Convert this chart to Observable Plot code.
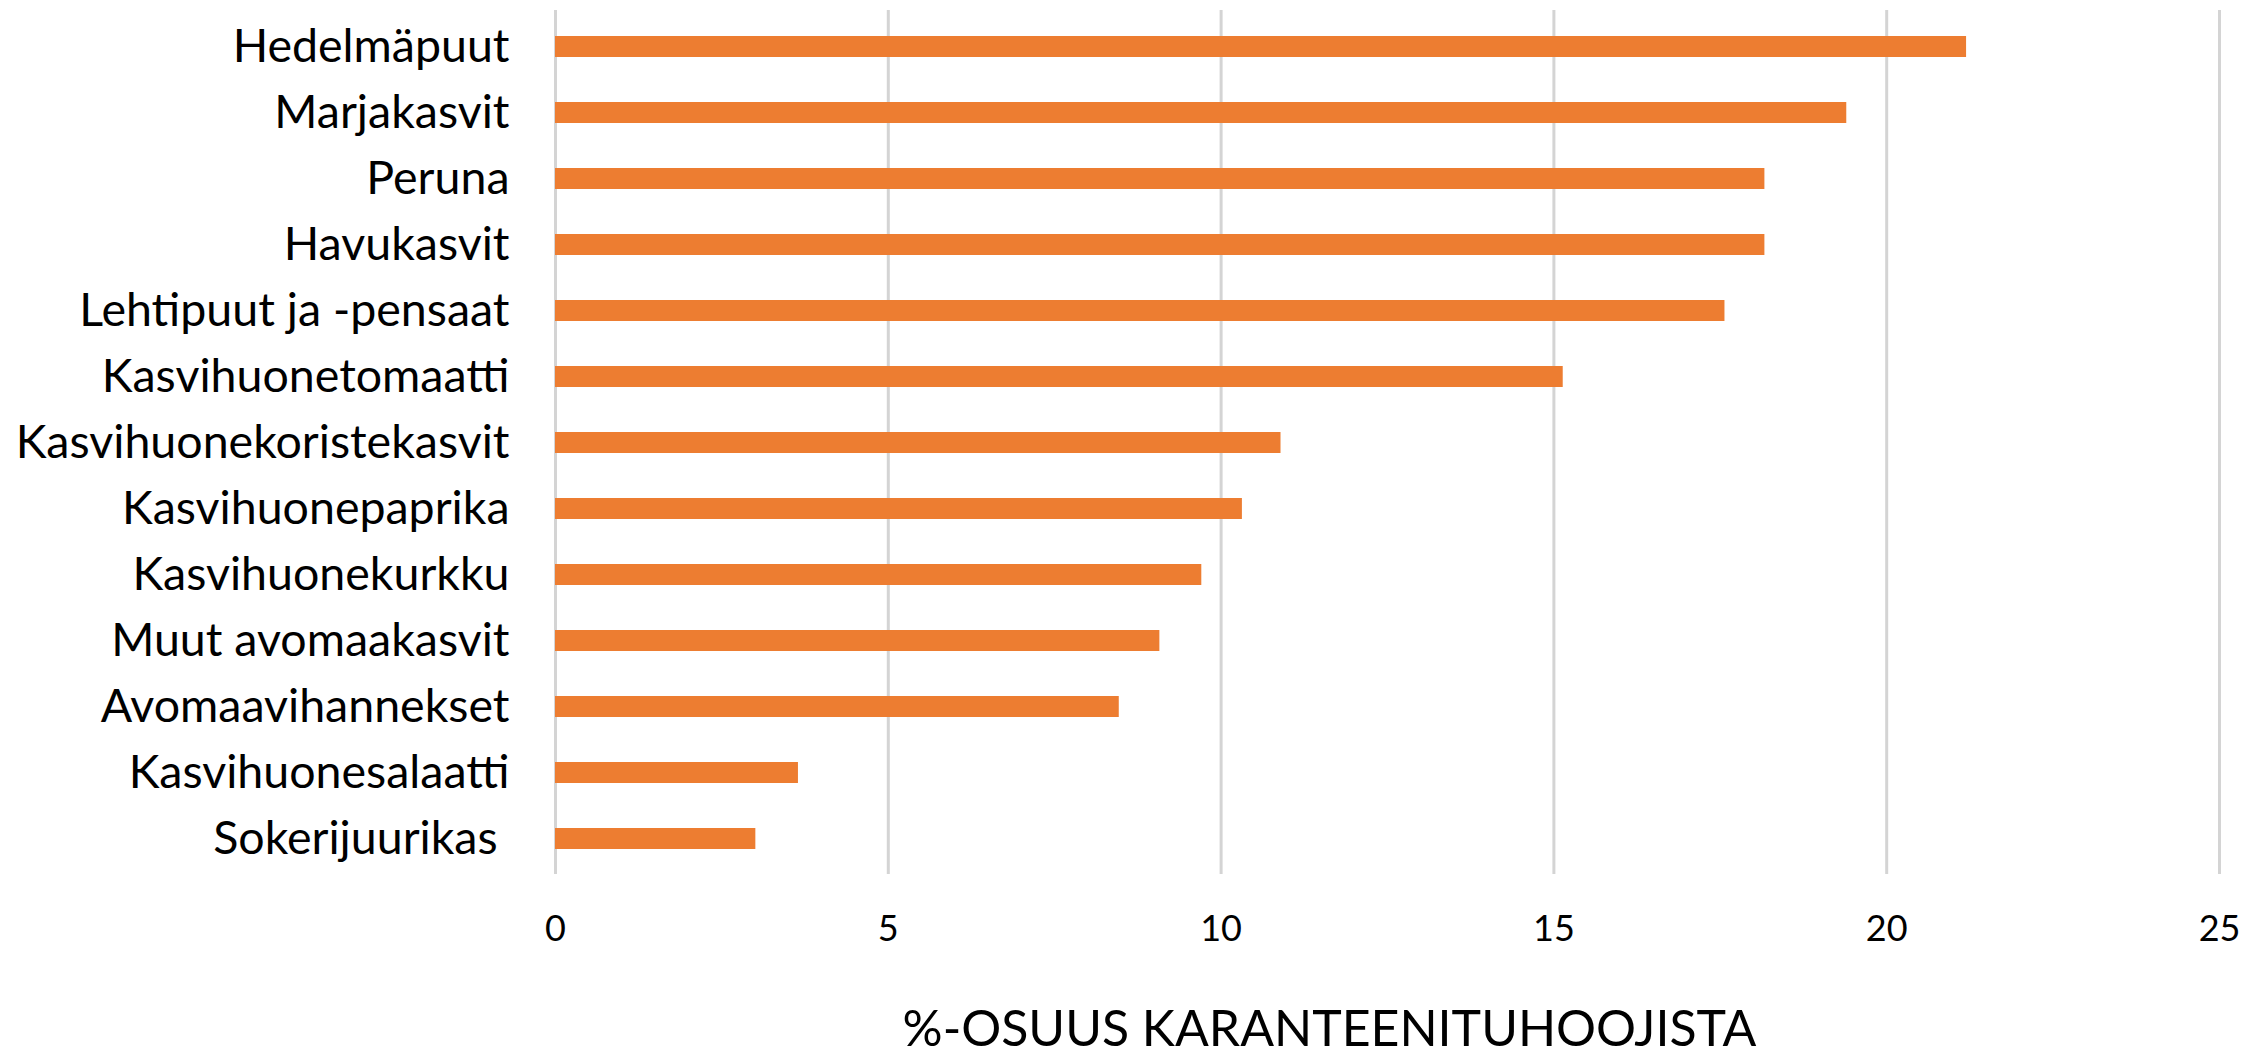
<!DOCTYPE html>
<html>
<head>
<meta charset="utf-8">
<script src="https://cdn.jsdelivr.net/npm/d3@7"></script>
<script src="https://cdn.jsdelivr.net/npm/@observablehq/plot@0.6"></script>
<style>
  html, body { margin: 0; padding: 0; background: #fff; }
</style>
</head>
<body>
<div id="chart"></div>
<script>
const categories = [
  "Hedelmäpuut",
  "Marjakasvit",
  "Peruna",
  "Havukasvit",
  "Lehtipuut ja -pensaat",
  "Kasvihuonetomaatti",
  "Kasvihuonekoristekasvit",
  "Kasvihuonepaprika",
  "Kasvihuonekurkku",
  "Muut avomaakasvit",
  "Avomaavihannekset",
  "Kasvihuonesalaatti",
  "Sokerijuurikas\u00a0"
];
const values = [21.2, 19.4, 18.17, 18.17, 17.57, 15.14, 10.9, 10.32, 9.71, 9.08, 8.47, 3.65, 3.01];
const xTicks = [0, 5, 10, 15, 20, 25];
const axisTitle = "%-OSUUS KARANTEENITUHOOJISTA";

const data = categories.map((c, i) => ({category: c, value: values[i]}));

const chart = Plot.plot({
  width: 2263,
  height: 1055,
  marginTop: 10,
  marginBottom: 181,
  marginLeft: 555,
  marginRight: 44,
  style: {fontFamily: "Lato, 'Open Sans', sans-serif", color: "#000", background: "#fff"},
  x: {domain: [0, 25], ticks: xTicks},
  y: {domain: categories, paddingInner: 0.684, paddingOuter: 0.342},
  marks: [
    Plot.gridX(xTicks, {stroke: "#d4d4d4", strokeOpacity: 1, strokeWidth: 3}),
    Plot.barX(data, {x: "value", y: "category", fill: "#ED7D31"}),
    Plot.axisY({tickSize: 0, tickPadding: 46, fontSize: 46.5, label: null}),
    Plot.axisX(xTicks, {tickSize: 0, tickPadding: 41, fontSize: 36, label: null, tickFormat: d => String(d)}),
    Plot.text([axisTitle], {text: d => d, frameAnchor: "bottom", dx: -58, dy: 171, fontSize: 50, fill: "#000"})
  ]
});
document.getElementById("chart").appendChild(chart);
</script>
</body>
</html>
